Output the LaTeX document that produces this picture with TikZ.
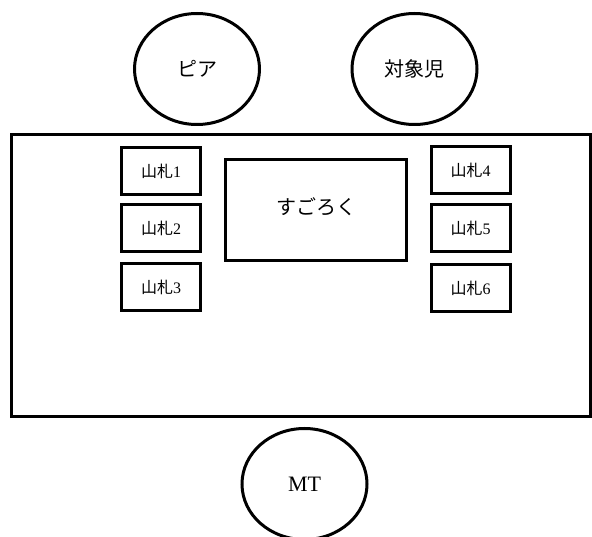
\documentclass[tikz,border=0pt]{standalone}
\usepackage{fontspec}
\setmainfont{Liberation Serif}
\newfontfamily\cjk{Noto Sans CJK JP}
\usetikzlibrary{shapes.geometric}
\begin{document}
\begin{tikzpicture}[x=1pt,y=-1pt,
  every node/.style={inner sep=0pt,outer sep=0pt},
  person/.style={draw,ellipse,line width=3pt,minimum width=125pt,minimum height=111pt,font=\fontsize{20}{20}\selectfont},
  pile/.style={draw,rectangle,line width=3pt,minimum width=79pt,minimum height=47pt,font=\fontsize{16}{16}\selectfont},
  board/.style={draw,rectangle,line width=3pt,minimum width=181pt,minimum height=101pt,font=\fontsize{20}{20}\selectfont}]
\useasboundingbox (0,0) rectangle (592,537);
\fill[white] (0,0) rectangle (592,537);
% table
\node[draw,rectangle,line width=3pt,minimum width=579pt,minimum height=281pt] (table) at (300.5,275.5) {};
% players
\node[person] (peer) at (197,69) {\cjk ピア};
\node[person] (child) at (414.5,69) {\cjk 対象児};
\node[person,font=\fontsize{22}{22}\selectfont] (mt) at (304.5,484) {MT};
% board game
\node[board] (sugoroku) at (316,210) {\raisebox{8pt}{\cjk すごろく}};
% card piles
\node[pile] (p1) at (161,171) {{\cjk 山札}1};
\node[pile] (p2) at (161,228.5) {{\cjk 山札}2};
\node[pile] (p3) at (161,287.5) {{\cjk 山札}3};
\node[pile] (p4) at (470.5,170) {{\cjk 山札}4};
\node[pile] (p5) at (470.5,228.5) {{\cjk 山札}5};
\node[pile] (p6) at (470.5,288) {{\cjk 山札}6};
\end{tikzpicture}
\end{document}
